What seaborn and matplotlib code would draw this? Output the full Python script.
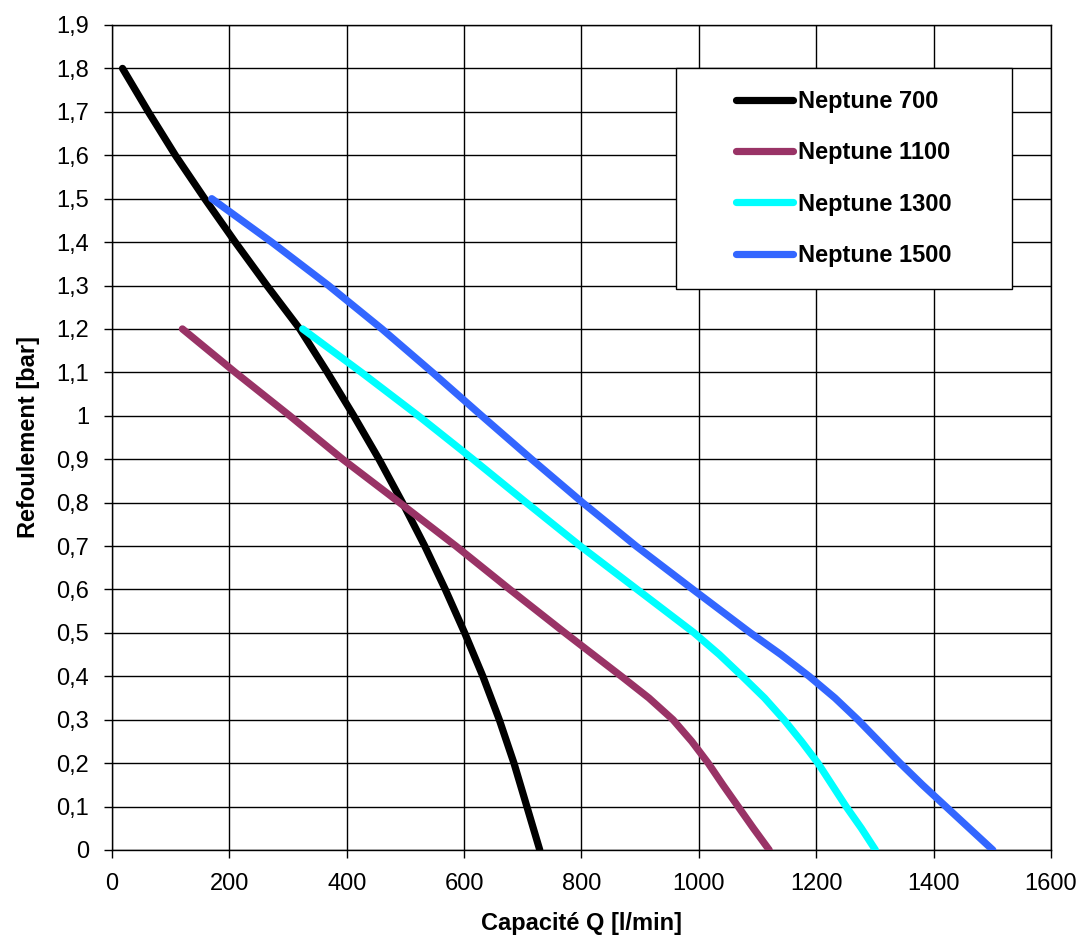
import pandas as pd
import matplotlib
matplotlib.use("Agg")
import matplotlib.pyplot as plt
from matplotlib.patches import Rectangle
from matplotlib.ticker import MultipleLocator, FuncFormatter
import seaborn as sns

# valeurs (débit l/min, refoulement bar)
n700_q = [18, 62, 108, 158, 210, 264, 320, 367, 412, 455, 495, 533, 568, 601, 632, 660, 685, 707, 729]
n700_h = [1.8, 1.7, 1.6, 1.5, 1.4, 1.3, 1.2, 1.1, 1.0, 0.9, 0.8, 0.7, 0.6, 0.5, 0.4, 0.3, 0.2, 0.1, 0.0]

n1100_q = [120, 210, 303, 393, 490, 586, 678, 772, 868, 915, 956, 988, 1016, 1041, 1067, 1093, 1120]
n1100_h = [1.2, 1.1, 1.0, 0.9, 0.8, 0.7, 0.6, 0.5, 0.4, 0.35, 0.3, 0.25, 0.2, 0.15, 0.1, 0.05, 0.0]

n1300_q = [325, 425, 522, 615, 706, 798, 895, 992, 1035, 1074, 1112, 1145, 1175, 1203, 1227, 1251, 1277, 1301]
n1300_h = [1.2, 1.1, 1.0, 0.9, 0.8, 0.7, 0.6, 0.5, 0.45, 0.4, 0.35, 0.3, 0.25, 0.2, 0.15, 0.1, 0.05, 0.0]

n1500_q = [170, 272, 369, 460, 546, 630, 715, 802, 893, 990, 1088, 1140, 1188, 1232, 1271, 1307, 1343, 1381, 1421, 1461, 1501]
n1500_h = [1.5, 1.4, 1.3, 1.2, 1.1, 1.0, 0.9, 0.8, 0.7, 0.6, 0.5, 0.45, 0.4, 0.35, 0.3, 0.25, 0.2, 0.15, 0.1, 0.05, 0.0]

models = ["Neptune 700", "Neptune 1100", "Neptune 1300", "Neptune 1500"]
colors = ["#000000", "#993366", "#00FFFF", "#3366FF"]

frames = []
for name, q, h in zip(models, [n700_q, n1100_q, n1300_q, n1500_q], [n700_h, n1100_h, n1300_h, n1500_h]):
    frames.append(pd.DataFrame({"Q": q, "H": h, "modele": name}))
df = pd.concat(frames, ignore_index=True)

sns.set_style("white")
plt.rcParams['font.family'] = ['Liberation Sans', 'DejaVu Sans']
plt.rcParams['text.color'] = 'black'
plt.rcParams['axes.labelcolor'] = 'black'
plt.rcParams['xtick.color'] = 'black'
plt.rcParams['ytick.color'] = 'black'

fig = plt.figure(figsize=(10.86, 9.39), dpi=100)
ax = fig.add_axes([0.1031, 0.0948, 0.8646, 0.8786])

sns.lineplot(data=df, x="Q", y="H", hue="modele", hue_order=models,
             palette=dict(zip(models, colors)), estimator=None, sort=False,
             linewidth=5.2, solid_capstyle="round", solid_joinstyle="round", ax=ax, zorder=3)

ax.set_xlim(0, 1600)
ax.set_ylim(0, 1.9)
ax.xaxis.set_major_locator(MultipleLocator(200))
ax.yaxis.set_major_locator(MultipleLocator(0.1))
ax.yaxis.set_major_formatter(FuncFormatter(lambda v, p: f"{round(v, 1):g}".replace(".", ",")))
ax.grid(True, color="#000000", linewidth=1.0)
ax.set_axisbelow(True)
for s in ax.spines.values():
    s.set_color("#000000")
    s.set_linewidth(1.0)
ax.tick_params(axis="both", direction="out", length=6, width=1, color="#000000",
               labelsize=17, pad=10.5, bottom=True, left=True, labelcolor="black")

ax.set_xlabel("Capacité Q [l/min]", fontsize=17, fontweight="bold", labelpad=12, color="black")
ax.set_ylabel("Refoulement [bar]", fontsize=17, fontweight="bold", labelpad=12, color="black")

# cadre de la légende (style Excel)
ax.add_patch(Rectangle((0.6006, 0.680), 0.3578, 0.2679, transform=ax.transAxes,
                       facecolor="white", edgecolor="black", linewidth=1.0, zorder=4))

handles, labels = ax.get_legend_handles_labels()
leg = ax.legend(handles, labels, loc="center", bbox_to_anchor=(0.7795, 0.8139),
                frameon=False, handlelength=2.4, handletextpad=0.2, labelspacing=1.2,
                borderpad=0, prop={"size": 17, "weight": "bold"})
leg.set_zorder(5)
for t in leg.get_texts():
    t.set_color("black")
for ln in leg.get_lines():
    ln.set_linewidth(5.2)
    ln.set_solid_capstyle("round")

fig.savefig("out.png", dpi=100)
